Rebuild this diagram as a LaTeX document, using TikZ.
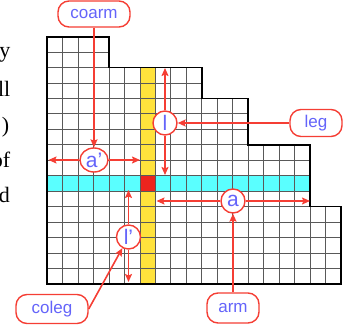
\documentclass[tikz,border=0pt]{standalone}
\usepackage{fontspec}
\setmainfont{Liberation Serif}
\newfontfamily\labfont{Liberation Sans}
\usetikzlibrary{arrows.meta,shapes.geometric}
\definecolor{rl}{RGB}{245,62,52}
\definecolor{bt}{RGB}{100,100,250}
\definecolor{cy}{RGB}{90,255,255}
\definecolor{yl}{RGB}{255,226,60}
\definecolor{rc}{RGB}{236,36,30}
\begin{document}
\begin{tikzpicture}[x=1pt,y=-1pt,
  lbox/.style={draw=rl, line width=1.4pt, rounded corners=11pt, fill=white, text=bt,
    font=\labfont\fontsize{17}{17}\selectfont, inner sep=0pt},
  circ/.style={circle, draw=rl, line width=1.4pt, fill=white, text=bt,
    font=\labfont\fontsize{21}{21}\selectfont, minimum size=24pt, inner sep=0pt},
  conn/.style={draw=rl, line width=1.6pt, -{Stealth[length=8pt,width=7pt,inset=1.5pt]}},
  gridline/.style={black!65, line width=0.9pt},
  lt/.style={font=\fontsize{22}{22}\selectfont, inner sep=0pt, anchor=base east}]
\useasboundingbox (0,0) rectangle (349,331);
\begin{scope}
\clip (0,0) rectangle (349,331);
\node[lt] (t1) at (10.5,58) {y};
\node[lt] (t2) at (10.5,97) {ll};
\node[lt] (t3) at (9.5,133) {)};
\node[lt] (t4) at (10.5,168) {of};
\node[lt] (t5) at (10,203) {d};
\end{scope}
% grid
\begin{scope}[shift={(47.3,36.7)}, x=15.45pt, y=-15.45pt]
  \fill[yl] (6,2) rectangle (7,16);
  \fill[cy] (0,9) rectangle (17,10);
  \fill[rc] (6,9) rectangle (7,10);
  \begin{scope}
    \clip (0,0) -- (4,0) -- (4,2) -- (10,2) -- (10,4) -- (13,4) -- (13,7) -- (17,7)
      -- (17,11) -- (19,11) -- (19,16) -- (0,16) -- cycle;
    \foreach \i in {1,...,18} \draw[gridline] (\i,0) -- (\i,16);
    \foreach \j in {1,...,15} \draw[gridline] (0,\j) -- (19,\j);
  \end{scope}
  \draw[black, line width=1.7pt] (0,0) -- (4,0) -- (4,2) -- (10,2) -- (10,4) -- (13,4) -- (13,7) -- (17,7)
      -- (17,11) -- (19,11) -- (19,16) -- (0,16) -- cycle;
\end{scope}
% labels
\node[lbox, minimum width=72pt, minimum height=26pt] (coarm) at (94,14) {coarm};
\node[lbox, minimum width=52pt, minimum height=27pt] (leg) at (316,123) {leg};
\node[lbox, minimum width=52pt, minimum height=30pt] (arm) at (233,308) {arm};
\node[lbox, minimum width=72pt, minimum height=29pt] (coleg) at (52,309) {coleg};
\node[circ, ellipse, minimum width=28pt, minimum height=24pt] (ap) at (94,160) {a’};
\node[circ] (l) at (165,123) {l};
\node[circ] (a) at (233,201) {a};
\node[circ] (lp) at (128.5,237) {l’};
% free ends
\coordinate (apL) at (48.5,160);
\coordinate (apR) at (140,160);
\coordinate (lU) at (165,68);
\coordinate (lD) at (165,175);
\coordinate (aL) at (156.5,201);
\coordinate (aR) at (310,201);
\coordinate (lpU) at (128.5,190);
\coordinate (lpD) at (128.5,282);
% connectors
\draw[conn] (coarm) -- (ap);
\draw[conn] (ap) -- (apL);
\draw[conn] (ap) -- (apR);
\draw[conn] (leg) -- (l);
\draw[conn] (l) -- (lU);
\draw[conn] (l) -- (lD);
\draw[conn] (arm) -- (a);
\draw[conn] (a) -- (aL);
\draw[conn] (a) -- (aR);
\draw[conn] (coleg.east) -- (lp);
\draw[conn] (lp) -- (lpU);
\draw[conn] (lp) -- (lpD);
\end{tikzpicture}
\end{document}
